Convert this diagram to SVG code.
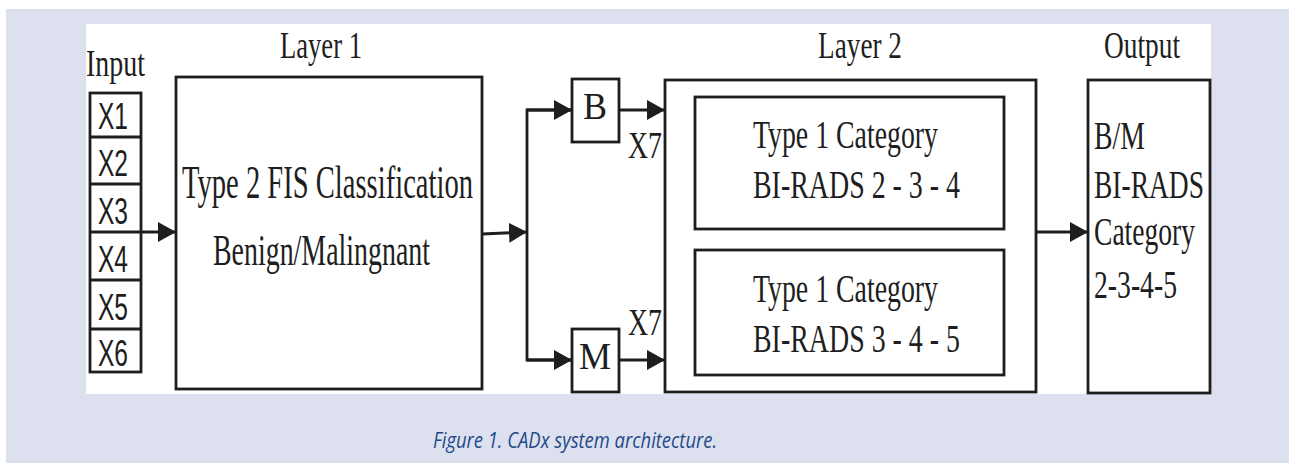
<svg xmlns="http://www.w3.org/2000/svg" width="1289" height="463" viewBox="0 0 1289 463">
  <style>
    .box { fill: #ffffff; stroke: #1e1e1e; stroke-width: 2.8; }
    .wire { fill: none; stroke: #1e1e1e; stroke-width: 2.8; }
    .serif { font-family: "Liberation Serif", "Times New Roman", serif; fill: #1e1e1e; }
    .sans { font-family: "Liberation Sans", Arial, sans-serif; fill: #1e1e1e; }
    .caption { font-family: "Open Sans", "Liberation Sans", sans-serif; font-style: italic; fill: #1f4a8a; }
  </style>
  <defs>
    <marker id="arrow" viewBox="0 0 18 20" refX="18" refY="10" markerWidth="18" markerHeight="20" markerUnits="userSpaceOnUse" orient="auto">
      <path d="M0,0 L18,10 L0,20 Z" fill="#1e1e1e"/>
    </marker>
  </defs>

  <!-- page background and panel -->
  <rect x="0" y="0" width="1289" height="463" fill="#ffffff"/>
  <rect x="6" y="9" width="1283" height="454" fill="#dde0ee"/>
  <rect x="86" y="24" width="1125" height="370" fill="#ffffff"/>

  <!-- input vector -->
  <g id="input">
    <text class="serif" x="86" y="76" font-size="37" textLength="59" lengthAdjust="spacingAndGlyphs">Input</text>
    <rect class="box" x="90" y="93" width="51" height="279"/>
    <line class="wire" x1="90" y1="137" x2="141" y2="137"/>
    <line class="wire" x1="90" y1="184" x2="141" y2="184"/>
    <line class="wire" x1="90" y1="232" x2="141" y2="232"/>
    <line class="wire" x1="90" y1="280" x2="141" y2="280"/>
    <line class="wire" x1="90" y1="329" x2="141" y2="329"/>
    <g class="sans" font-size="37">
      <text x="98" y="129" textLength="30" lengthAdjust="spacingAndGlyphs">X1</text>
      <text x="98" y="176" textLength="30" lengthAdjust="spacingAndGlyphs">X2</text>
      <text x="98" y="224" textLength="30" lengthAdjust="spacingAndGlyphs">X3</text>
      <text x="98" y="272" textLength="30" lengthAdjust="spacingAndGlyphs">X4</text>
      <text x="98" y="320" textLength="30" lengthAdjust="spacingAndGlyphs">X5</text>
      <text x="98" y="366" textLength="30" lengthAdjust="spacingAndGlyphs">X6</text>
    </g>
  </g>

  <!-- layer 1 -->
  <g id="layer1">
    <text class="serif" x="321" y="58" font-size="38" text-anchor="middle" textLength="82" lengthAdjust="spacingAndGlyphs">Layer 1</text>
    <rect class="box" x="176" y="77" width="306" height="312"/>
    <text class="serif" x="182" y="198" font-size="47" textLength="291" lengthAdjust="spacingAndGlyphs">Type 2 FIS Classification</text>
    <text class="serif" x="213" y="265" font-size="45" textLength="217" lengthAdjust="spacingAndGlyphs">Benign/Malingnant</text>
  </g>

  <!-- benign / malignant split -->
  <g id="nodeB">
    <rect class="box" x="572" y="79" width="47" height="63"/>
    <text class="serif" x="595" y="119" font-size="38" text-anchor="middle" textLength="24" lengthAdjust="spacingAndGlyphs">B</text>
  </g>
  <g id="nodeM">
    <rect class="box" x="572" y="329" width="47" height="63"/>
    <text class="serif" x="595" y="369" font-size="38" text-anchor="middle" textLength="32" lengthAdjust="spacingAndGlyphs">M</text>
  </g>

  <!-- layer 2 -->
  <g id="layer2">
    <text class="serif" x="860" y="58" font-size="38" text-anchor="middle" textLength="84" lengthAdjust="spacingAndGlyphs">Layer 2</text>
    <rect class="box" x="665" y="80" width="371" height="312"/>
  </g>
  <g id="category-a">
    <rect class="box" x="695" y="97" width="309" height="132"/>
    <text class="serif" x="753" y="148" font-size="41" textLength="185" lengthAdjust="spacingAndGlyphs">Type 1 Category</text>
    <text class="serif" x="753" y="198" font-size="41" textLength="207" lengthAdjust="spacingAndGlyphs">BI-RADS 2 - 3 - 4</text>
  </g>
  <g id="category-b">
    <rect class="box" x="695" y="250" width="309" height="125"/>
    <text class="serif" x="753" y="302" font-size="41" textLength="185" lengthAdjust="spacingAndGlyphs">Type 1 Category</text>
    <text class="serif" x="753" y="352" font-size="41" textLength="207" lengthAdjust="spacingAndGlyphs">BI-RADS 3 - 4 - 5</text>
  </g>

  <!-- output -->
  <g id="output">
    <text class="serif" x="1142" y="58" font-size="38" text-anchor="middle" textLength="76" lengthAdjust="spacingAndGlyphs">Output</text>
    <rect class="box" x="1088" y="80" width="122" height="313"/>
    <text class="serif" x="1094" y="149" font-size="41" textLength="51" lengthAdjust="spacingAndGlyphs">B/M</text>
    <text class="serif" x="1094" y="198" font-size="41" textLength="110" lengthAdjust="spacingAndGlyphs">BI-RADS</text>
    <text class="serif" x="1094" y="245" font-size="41" textLength="101" lengthAdjust="spacingAndGlyphs">Category</text>
    <text class="serif" x="1094" y="298" font-size="41" textLength="83" lengthAdjust="spacingAndGlyphs">2-3-4-5</text>
  </g>

  <!-- connectors -->
  <g id="connectors">
    <line class="wire" x1="141" y1="232" x2="176" y2="232" marker-end="url(#arrow)"/>
    <line class="wire" x1="482" y1="234" x2="527" y2="232" marker-end="url(#arrow)"/>
    <polyline class="wire" points="572,110 527,110 527,360 572,360"/>
    <line class="wire" x1="527" y1="110" x2="572" y2="110" marker-end="url(#arrow)"/>
    <line class="wire" x1="527" y1="360" x2="572" y2="360" marker-end="url(#arrow)"/>
    <line class="wire" x1="619" y1="110" x2="665" y2="110" marker-end="url(#arrow)"/>
    <line class="wire" x1="619" y1="360" x2="665" y2="360" marker-end="url(#arrow)"/>
    <line class="wire" x1="1036" y1="232" x2="1088" y2="232" marker-end="url(#arrow)"/>
    <text class="serif" x="628" y="158" font-size="37" textLength="34" lengthAdjust="spacingAndGlyphs">X7</text>
    <text class="serif" x="628" y="335" font-size="37" textLength="34" lengthAdjust="spacingAndGlyphs">X7</text>
  </g>

  <!-- caption -->
  <text class="caption" x="433" y="448" font-size="22" textLength="284" lengthAdjust="spacingAndGlyphs">Figure 1. CADx system architecture.</text>
</svg>
